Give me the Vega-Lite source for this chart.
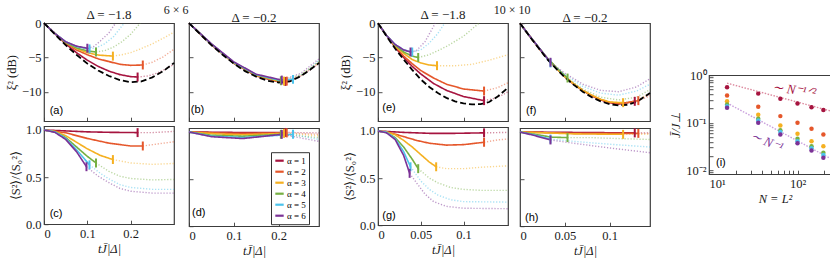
{
"$schema": "https://vega.github.io/schema/vega-lite/v6.json",
"padding": {"left": 4, "right": 2, "top": 3, "bottom": 2},
"datasets": {
"curves": [
{"p":"a","a":1,"s":"s","t":0,"y":0},{"p":"a","a":1,"s":"s","t":0.025,"y":-1.5},{"p":"a","a":1,"s":"s","t":0.05,"y":-3},{"p":"a","a":1,"s":"s","t":0.075,"y":-4.3},{"p":"a","a":1,"s":"s","t":0.1,"y":-5.4},{"p":"a","a":1,"s":"s","t":0.125,"y":-6.3},{"p":"a","a":1,"s":"s","t":0.15,"y":-7},{"p":"a","a":1,"s":"s","t":0.175,"y":-7.5},{"p":"a","a":1,"s":"s","t":0.2,"y":-7.8},{"p":"a","a":1,"s":"s","t":0.216,"y":-7.85},
{"p":"a","a":1,"s":"d","t":0.216,"y":-7.85},{"p":"a","a":1,"s":"d","t":0.24,"y":-7.7},{"p":"a","a":1,"s":"d","t":0.26,"y":-7.3},{"p":"a","a":1,"s":"d","t":0.28,"y":-6.7},{"p":"a","a":1,"s":"d","t":0.3,"y":-6},
{"p":"a","a":2,"s":"s","t":0,"y":0},{"p":"a","a":2,"s":"s","t":0.025,"y":-1.5},{"p":"a","a":2,"s":"s","t":0.05,"y":-2.9},{"p":"a","a":2,"s":"s","t":0.075,"y":-3.9},{"p":"a","a":2,"s":"s","t":0.1,"y":-4.6},{"p":"a","a":2,"s":"s","t":0.125,"y":-5.2},{"p":"a","a":2,"s":"s","t":0.15,"y":-5.6},{"p":"a","a":2,"s":"s","t":0.175,"y":-6},{"p":"a","a":2,"s":"s","t":0.2,"y":-6.15},{"p":"a","a":2,"s":"s","t":0.228,"y":-6.1},
{"p":"a","a":2,"s":"d","t":0.228,"y":-6.1},{"p":"a","a":2,"s":"d","t":0.25,"y":-5.7},{"p":"a","a":2,"s":"d","t":0.275,"y":-4.9},{"p":"a","a":2,"s":"d","t":0.3,"y":-3.8},
{"p":"a","a":3,"s":"s","t":0,"y":0},{"p":"a","a":3,"s":"s","t":0.025,"y":-1.5},{"p":"a","a":3,"s":"s","t":0.05,"y":-2.8},{"p":"a","a":3,"s":"s","t":0.075,"y":-3.7},{"p":"a","a":3,"s":"s","t":0.1,"y":-4.3},{"p":"a","a":3,"s":"s","t":0.125,"y":-4.65},{"p":"a","a":3,"s":"s","t":0.159,"y":-4.8},
{"p":"a","a":3,"s":"d","t":0.159,"y":-4.8},{"p":"a","a":3,"s":"d","t":0.18,"y":-4.6},{"p":"a","a":3,"s":"d","t":0.2,"y":-4.3},{"p":"a","a":3,"s":"d","t":0.225,"y":-3.7},{"p":"a","a":3,"s":"d","t":0.25,"y":-3},{"p":"a","a":3,"s":"d","t":0.275,"y":-2.2},{"p":"a","a":3,"s":"d","t":0.3,"y":-1.3},
{"p":"a","a":4,"s":"s","t":0,"y":0},{"p":"a","a":4,"s":"s","t":0.025,"y":-1.5},{"p":"a","a":4,"s":"s","t":0.05,"y":-2.8},{"p":"a","a":4,"s":"s","t":0.075,"y":-3.6},{"p":"a","a":4,"s":"s","t":0.1,"y":-4.05},{"p":"a","a":4,"s":"s","t":0.12,"y":-4.2},
{"p":"a","a":4,"s":"d","t":0.12,"y":-4.2},{"p":"a","a":4,"s":"d","t":0.14,"y":-4},{"p":"a","a":4,"s":"d","t":0.16,"y":-3.5},{"p":"a","a":4,"s":"d","t":0.18,"y":-2.7},{"p":"a","a":4,"s":"d","t":0.2,"y":-1.6},{"p":"a","a":4,"s":"d","t":0.222,"y":0},
{"p":"a","a":5,"s":"s","t":0,"y":0},{"p":"a","a":5,"s":"s","t":0.025,"y":-1.5},{"p":"a","a":5,"s":"s","t":0.05,"y":-2.7},{"p":"a","a":5,"s":"s","t":0.075,"y":-3.4},{"p":"a","a":5,"s":"s","t":0.105,"y":-3.75},
{"p":"a","a":5,"s":"d","t":0.105,"y":-3.75},{"p":"a","a":5,"s":"d","t":0.12,"y":-3.6},{"p":"a","a":5,"s":"d","t":0.14,"y":-3},{"p":"a","a":5,"s":"d","t":0.16,"y":-2},{"p":"a","a":5,"s":"d","t":0.185,"y":0},
{"p":"a","a":6,"s":"s","t":0,"y":0},{"p":"a","a":6,"s":"s","t":0.025,"y":-1.5},{"p":"a","a":6,"s":"s","t":0.05,"y":-2.7},{"p":"a","a":6,"s":"s","t":0.075,"y":-3.35},{"p":"a","a":6,"s":"s","t":0.1,"y":-3.65},
{"p":"a","a":6,"s":"d","t":0.1,"y":-3.65},{"p":"a","a":6,"s":"d","t":0.115,"y":-3.4},{"p":"a","a":6,"s":"d","t":0.13,"y":-2.6},{"p":"a","a":6,"s":"d","t":0.15,"y":-1.4},{"p":"a","a":6,"s":"d","t":0.165,"y":0},

{"p":"b","a":1,"s":"s","t":0,"y":0},{"p":"b","a":1,"s":"s","t":0.05,"y":-3.15},{"p":"b","a":1,"s":"s","t":0.1,"y":-5.85},{"p":"b","a":1,"s":"s","t":0.15,"y":-7.7},{"p":"b","a":1,"s":"s","t":0.2,"y":-8.55},{"p":"b","a":1,"s":"s","t":0.215,"y":-8.5},
{"p":"b","a":1,"s":"d","t":0.215,"y":-8.5},{"p":"b","a":1,"s":"d","t":0.25,"y":-7.7},{"p":"b","a":1,"s":"d","t":0.29,"y":-5.9},
{"p":"b","a":2,"s":"s","t":0,"y":0},{"p":"b","a":2,"s":"s","t":0.05,"y":-3.1},{"p":"b","a":2,"s":"s","t":0.1,"y":-5.8},{"p":"b","a":2,"s":"s","t":0.15,"y":-7.65},{"p":"b","a":2,"s":"s","t":0.2,"y":-8.5},{"p":"b","a":2,"s":"s","t":0.218,"y":-8.45},
{"p":"b","a":2,"s":"d","t":0.218,"y":-8.45},{"p":"b","a":2,"s":"d","t":0.25,"y":-7.65},{"p":"b","a":2,"s":"d","t":0.29,"y":-5.8},
{"p":"b","a":3,"s":"s","t":0,"y":0},{"p":"b","a":3,"s":"s","t":0.05,"y":-3.1},{"p":"b","a":3,"s":"s","t":0.1,"y":-5.8},{"p":"b","a":3,"s":"s","t":0.15,"y":-7.6},{"p":"b","a":3,"s":"s","t":0.2,"y":-8.45},{"p":"b","a":3,"s":"s","t":0.212,"y":-8.45},
{"p":"b","a":3,"s":"d","t":0.212,"y":-8.45},{"p":"b","a":3,"s":"d","t":0.25,"y":-7.6},{"p":"b","a":3,"s":"d","t":0.29,"y":-5.7},
{"p":"b","a":4,"s":"s","t":0,"y":0},{"p":"b","a":4,"s":"s","t":0.05,"y":-3.05},{"p":"b","a":4,"s":"s","t":0.1,"y":-5.75},{"p":"b","a":4,"s":"s","t":0.15,"y":-7.55},{"p":"b","a":4,"s":"s","t":0.205,"y":-8.4},
{"p":"b","a":4,"s":"d","t":0.205,"y":-8.4},{"p":"b","a":4,"s":"d","t":0.25,"y":-7.5},{"p":"b","a":4,"s":"d","t":0.29,"y":-5.55},
{"p":"b","a":5,"s":"s","t":0,"y":0},{"p":"b","a":5,"s":"s","t":0.05,"y":-3.05},{"p":"b","a":5,"s":"s","t":0.1,"y":-5.7},{"p":"b","a":5,"s":"s","t":0.15,"y":-7.5},{"p":"b","a":5,"s":"s","t":0.2,"y":-8.3},{"p":"b","a":5,"s":"s","t":0.232,"y":-8.2},
{"p":"b","a":5,"s":"d","t":0.232,"y":-8.2},{"p":"b","a":5,"s":"d","t":0.26,"y":-7.2},{"p":"b","a":5,"s":"d","t":0.29,"y":-5.4},
{"p":"b","a":6,"s":"s","t":0,"y":0},{"p":"b","a":6,"s":"s","t":0.05,"y":-3},{"p":"b","a":6,"s":"s","t":0.1,"y":-5.65},{"p":"b","a":6,"s":"s","t":0.15,"y":-7.45},{"p":"b","a":6,"s":"s","t":0.207,"y":-8.3},
{"p":"b","a":6,"s":"d","t":0.207,"y":-8.3},{"p":"b","a":6,"s":"d","t":0.25,"y":-7.3},{"p":"b","a":6,"s":"d","t":0.29,"y":-5.2},

{"p":"c","a":1,"s":"s","t":0,"y":1},{"p":"c","a":1,"s":"s","t":0.05,"y":0.99},{"p":"c","a":1,"s":"s","t":0.1,"y":0.98},{"p":"c","a":1,"s":"s","t":0.15,"y":0.975},{"p":"c","a":1,"s":"s","t":0.216,"y":0.972},
{"p":"c","a":1,"s":"d","t":0.216,"y":0.972},{"p":"c","a":1,"s":"d","t":0.25,"y":0.972},{"p":"c","a":1,"s":"d","t":0.3,"y":0.985},
{"p":"c","a":2,"s":"s","t":0,"y":1},{"p":"c","a":2,"s":"s","t":0.05,"y":0.97},{"p":"c","a":2,"s":"s","t":0.1,"y":0.91},{"p":"c","a":2,"s":"s","t":0.15,"y":0.86},{"p":"c","a":2,"s":"s","t":0.2,"y":0.83},{"p":"c","a":2,"s":"s","t":0.228,"y":0.83},
{"p":"c","a":2,"s":"d","t":0.228,"y":0.83},{"p":"c","a":2,"s":"d","t":0.26,"y":0.85},{"p":"c","a":2,"s":"d","t":0.3,"y":0.875},
{"p":"c","a":3,"s":"s","t":0,"y":1},{"p":"c","a":3,"s":"s","t":0.025,"y":0.985},{"p":"c","a":3,"s":"s","t":0.05,"y":0.94},{"p":"c","a":3,"s":"s","t":0.075,"y":0.87},{"p":"c","a":3,"s":"s","t":0.1,"y":0.8},{"p":"c","a":3,"s":"s","t":0.13,"y":0.73},{"p":"c","a":3,"s":"s","t":0.159,"y":0.686},
{"p":"c","a":3,"s":"d","t":0.159,"y":0.686},{"p":"c","a":3,"s":"d","t":0.2,"y":0.65},{"p":"c","a":3,"s":"d","t":0.25,"y":0.635},{"p":"c","a":3,"s":"d","t":0.3,"y":0.645},
{"p":"c","a":4,"s":"s","t":0,"y":1},{"p":"c","a":4,"s":"s","t":0.025,"y":0.98},{"p":"c","a":4,"s":"s","t":0.05,"y":0.92},{"p":"c","a":4,"s":"s","t":0.075,"y":0.82},{"p":"c","a":4,"s":"s","t":0.1,"y":0.72},{"p":"c","a":4,"s":"s","t":0.12,"y":0.65},
{"p":"c","a":4,"s":"d","t":0.12,"y":0.65},{"p":"c","a":4,"s":"d","t":0.15,"y":0.56},{"p":"c","a":4,"s":"d","t":0.175,"y":0.51},{"p":"c","a":4,"s":"d","t":0.2,"y":0.485},{"p":"c","a":4,"s":"d","t":0.25,"y":0.47},{"p":"c","a":4,"s":"d","t":0.3,"y":0.475},
{"p":"c","a":5,"s":"s","t":0,"y":1},{"p":"c","a":5,"s":"s","t":0.025,"y":0.98},{"p":"c","a":5,"s":"s","t":0.05,"y":0.91},{"p":"c","a":5,"s":"s","t":0.075,"y":0.79},{"p":"c","a":5,"s":"s","t":0.105,"y":0.63},
{"p":"c","a":5,"s":"d","t":0.105,"y":0.63},{"p":"c","a":5,"s":"d","t":0.13,"y":0.54},{"p":"c","a":5,"s":"d","t":0.15,"y":0.48},{"p":"c","a":5,"s":"d","t":0.175,"y":0.42},{"p":"c","a":5,"s":"d","t":0.2,"y":0.39},{"p":"c","a":5,"s":"d","t":0.25,"y":0.37},{"p":"c","a":5,"s":"d","t":0.3,"y":0.37},
{"p":"c","a":6,"s":"s","t":0,"y":1},{"p":"c","a":6,"s":"s","t":0.025,"y":0.975},{"p":"c","a":6,"s":"s","t":0.05,"y":0.9},{"p":"c","a":6,"s":"s","t":0.075,"y":0.77},{"p":"c","a":6,"s":"s","t":0.098,"y":0.61},
{"p":"c","a":6,"s":"d","t":0.098,"y":0.61},{"p":"c","a":6,"s":"d","t":0.125,"y":0.51},{"p":"c","a":6,"s":"d","t":0.15,"y":0.44},{"p":"c","a":6,"s":"d","t":0.175,"y":0.38},{"p":"c","a":6,"s":"d","t":0.2,"y":0.35},{"p":"c","a":6,"s":"d","t":0.25,"y":0.33},{"p":"c","a":6,"s":"d","t":0.3,"y":0.33},

{"p":"d","a":1,"s":"s","t":0,"y":1},{"p":"d","a":1,"s":"s","t":0.1,"y":0.995},{"p":"d","a":1,"s":"s","t":0.215,"y":0.995},
{"p":"d","a":1,"s":"d","t":0.215,"y":0.995},{"p":"d","a":1,"s":"d","t":0.29,"y":0.99},
{"p":"d","a":2,"s":"s","t":0,"y":1},{"p":"d","a":2,"s":"s","t":0.1,"y":0.985},{"p":"d","a":2,"s":"s","t":0.218,"y":0.99},
{"p":"d","a":2,"s":"d","t":0.218,"y":0.99},{"p":"d","a":2,"s":"d","t":0.29,"y":0.975},
{"p":"d","a":3,"s":"s","t":0,"y":1},{"p":"d","a":3,"s":"s","t":0.06,"y":0.98},{"p":"d","a":3,"s":"s","t":0.12,"y":0.97},{"p":"d","a":3,"s":"s","t":0.212,"y":0.985},
{"p":"d","a":3,"s":"d","t":0.212,"y":0.985},{"p":"d","a":3,"s":"d","t":0.29,"y":0.96},
{"p":"d","a":4,"s":"s","t":0,"y":1},{"p":"d","a":4,"s":"s","t":0.05,"y":0.965},{"p":"d","a":4,"s":"s","t":0.12,"y":0.955},{"p":"d","a":4,"s":"s","t":0.205,"y":0.975},
{"p":"d","a":4,"s":"d","t":0.205,"y":0.975},{"p":"d","a":4,"s":"d","t":0.29,"y":0.94},
{"p":"d","a":5,"s":"s","t":0,"y":1},{"p":"d","a":5,"s":"s","t":0.05,"y":0.955},{"p":"d","a":5,"s":"s","t":0.12,"y":0.94},{"p":"d","a":5,"s":"s","t":0.232,"y":0.975},
{"p":"d","a":5,"s":"d","t":0.232,"y":0.975},{"p":"d","a":5,"s":"d","t":0.29,"y":0.92},
{"p":"d","a":6,"s":"s","t":0,"y":1},{"p":"d","a":6,"s":"s","t":0.05,"y":0.95},{"p":"d","a":6,"s":"s","t":0.12,"y":0.93},{"p":"d","a":6,"s":"s","t":0.207,"y":0.975},
{"p":"d","a":6,"s":"d","t":0.207,"y":0.975},{"p":"d","a":6,"s":"d","t":0.29,"y":0.9},

{"p":"e","a":1,"s":"s","t":0,"y":0},{"p":"e","a":1,"s":"s","t":0.01,"y":-1.8},{"p":"e","a":1,"s":"s","t":0.02,"y":-3.5},{"p":"e","a":1,"s":"s","t":0.03,"y":-5},{"p":"e","a":1,"s":"s","t":0.04,"y":-6.3},{"p":"e","a":1,"s":"s","t":0.05,"y":-7.4},{"p":"e","a":1,"s":"s","t":0.065,"y":-8.8},{"p":"e","a":1,"s":"s","t":0.08,"y":-9.8},{"p":"e","a":1,"s":"s","t":0.1,"y":-10.7},{"p":"e","a":1,"s":"s","t":0.124,"y":-11.3},
{"p":"e","a":1,"s":"d","t":0.124,"y":-11.3},{"p":"e","a":1,"s":"d","t":0.135,"y":-11},{"p":"e","a":1,"s":"d","t":0.145,"y":-10.5},{"p":"e","a":1,"s":"d","t":0.152,"y":-10},
{"p":"e","a":2,"s":"s","t":0,"y":0},{"p":"e","a":2,"s":"s","t":0.01,"y":-1.8},{"p":"e","a":2,"s":"s","t":0.02,"y":-3.4},{"p":"e","a":2,"s":"s","t":0.03,"y":-4.8},{"p":"e","a":2,"s":"s","t":0.04,"y":-5.9},{"p":"e","a":2,"s":"s","t":0.05,"y":-6.9},{"p":"e","a":2,"s":"s","t":0.065,"y":-8},{"p":"e","a":2,"s":"s","t":0.08,"y":-8.9},{"p":"e","a":2,"s":"s","t":0.1,"y":-9.6},{"p":"e","a":2,"s":"s","t":0.124,"y":-9.9},
{"p":"e","a":2,"s":"d","t":0.124,"y":-9.9},{"p":"e","a":2,"s":"d","t":0.14,"y":-9.4},{"p":"e","a":2,"s":"d","t":0.152,"y":-8.7},
{"p":"e","a":3,"s":"s","t":0,"y":0},{"p":"e","a":3,"s":"s","t":0.01,"y":-1.8},{"p":"e","a":3,"s":"s","t":0.02,"y":-3.3},{"p":"e","a":3,"s":"s","t":0.03,"y":-4.4},{"p":"e","a":3,"s":"s","t":0.04,"y":-5.3},{"p":"e","a":3,"s":"s","t":0.05,"y":-5.8},{"p":"e","a":3,"s":"s","t":0.06,"y":-6.1},{"p":"e","a":3,"s":"s","t":0.069,"y":-6.2},
{"p":"e","a":3,"s":"d","t":0.069,"y":-6.2},{"p":"e","a":3,"s":"d","t":0.09,"y":-6.2},{"p":"e","a":3,"s":"d","t":0.11,"y":-6},{"p":"e","a":3,"s":"d","t":0.13,"y":-5.4},{"p":"e","a":3,"s":"d","t":0.152,"y":-4.6},
{"p":"e","a":4,"s":"s","t":0,"y":0},{"p":"e","a":4,"s":"s","t":0.01,"y":-1.8},{"p":"e","a":4,"s":"s","t":0.02,"y":-3.2},{"p":"e","a":4,"s":"s","t":0.03,"y":-4.2},{"p":"e","a":4,"s":"s","t":0.04,"y":-4.8},{"p":"e","a":4,"s":"s","t":0.047,"y":-5},
{"p":"e","a":4,"s":"d","t":0.047,"y":-5},{"p":"e","a":4,"s":"d","t":0.06,"y":-4.6},{"p":"e","a":4,"s":"d","t":0.08,"y":-3.4},{"p":"e","a":4,"s":"d","t":0.1,"y":-1.9},{"p":"e","a":4,"s":"d","t":0.118,"y":0},
{"p":"e","a":5,"s":"s","t":0,"y":0},{"p":"e","a":5,"s":"s","t":0.01,"y":-1.8},{"p":"e","a":5,"s":"s","t":0.02,"y":-3.1},{"p":"e","a":5,"s":"s","t":0.03,"y":-3.9},{"p":"e","a":5,"s":"s","t":0.04,"y":-4.2},
{"p":"e","a":5,"s":"d","t":0.04,"y":-4.2},{"p":"e","a":5,"s":"d","t":0.05,"y":-3.9},{"p":"e","a":5,"s":"d","t":0.06,"y":-2.9},{"p":"e","a":5,"s":"d","t":0.07,"y":-1.5},{"p":"e","a":5,"s":"d","t":0.078,"y":0},
{"p":"e","a":6,"s":"s","t":0,"y":0},{"p":"e","a":6,"s":"s","t":0.01,"y":-1.8},{"p":"e","a":6,"s":"s","t":0.02,"y":-3.1},{"p":"e","a":6,"s":"s","t":0.03,"y":-3.9},{"p":"e","a":6,"s":"s","t":0.038,"y":-4.2},
{"p":"e","a":6,"s":"d","t":0.038,"y":-4.2},{"p":"e","a":6,"s":"d","t":0.045,"y":-4},{"p":"e","a":6,"s":"d","t":0.055,"y":-2.7},{"p":"e","a":6,"s":"d","t":0.067,"y":0},

{"p":"f","a":1,"s":"s","t":0,"y":0},{"p":"f","a":1,"s":"s","t":0.01,"y":-1.75},{"p":"f","a":1,"s":"s","t":0.02,"y":-3.45},{"p":"f","a":1,"s":"s","t":0.03,"y":-5.1},{"p":"f","a":1,"s":"s","t":0.04,"y":-6.5},{"p":"f","a":1,"s":"s","t":0.05,"y":-7.8},{"p":"f","a":1,"s":"s","t":0.06,"y":-8.9},{"p":"f","a":1,"s":"s","t":0.07,"y":-9.85},{"p":"f","a":1,"s":"s","t":0.08,"y":-10.6},{"p":"f","a":1,"s":"s","t":0.09,"y":-11.2},{"p":"f","a":1,"s":"s","t":0.1,"y":-11.6},{"p":"f","a":1,"s":"s","t":0.11,"y":-11.8},{"p":"f","a":1,"s":"s","t":0.128,"y":-11.4},
{"p":"f","a":1,"s":"d","t":0.128,"y":-11.4},{"p":"f","a":1,"s":"d","t":0.145,"y":-10.4},
{"p":"f","a":2,"s":"s","t":0,"y":0},{"p":"f","a":2,"s":"s","t":0.01,"y":-1.75},{"p":"f","a":2,"s":"s","t":0.02,"y":-3.45},{"p":"f","a":2,"s":"s","t":0.03,"y":-5.1},{"p":"f","a":2,"s":"s","t":0.04,"y":-6.5},{"p":"f","a":2,"s":"s","t":0.05,"y":-7.8},{"p":"f","a":2,"s":"s","t":0.06,"y":-8.9},{"p":"f","a":2,"s":"s","t":0.07,"y":-9.8},{"p":"f","a":2,"s":"s","t":0.08,"y":-10.55},{"p":"f","a":2,"s":"s","t":0.09,"y":-11.15},{"p":"f","a":2,"s":"s","t":0.1,"y":-11.55},{"p":"f","a":2,"s":"s","t":0.11,"y":-11.75},{"p":"f","a":2,"s":"s","t":0.12,"y":-11.6},{"p":"f","a":2,"s":"s","t":0.132,"y":-11.3},
{"p":"f","a":2,"s":"d","t":0.132,"y":-11.3},{"p":"f","a":2,"s":"d","t":0.145,"y":-10.6},
{"p":"f","a":3,"s":"s","t":0,"y":0},{"p":"f","a":3,"s":"s","t":0.01,"y":-1.75},{"p":"f","a":3,"s":"s","t":0.02,"y":-3.45},{"p":"f","a":3,"s":"s","t":0.03,"y":-5.1},{"p":"f","a":3,"s":"s","t":0.04,"y":-6.5},{"p":"f","a":3,"s":"s","t":0.05,"y":-7.8},{"p":"f","a":3,"s":"s","t":0.06,"y":-8.85},{"p":"f","a":3,"s":"s","t":0.07,"y":-9.8},{"p":"f","a":3,"s":"s","t":0.08,"y":-10.5},{"p":"f","a":3,"s":"s","t":0.09,"y":-11.1},{"p":"f","a":3,"s":"s","t":0.1,"y":-11.5},{"p":"f","a":3,"s":"s","t":0.115,"y":-11.6},
{"p":"f","a":3,"s":"d","t":0.115,"y":-11.6},{"p":"f","a":3,"s":"d","t":0.13,"y":-11.3},{"p":"f","a":3,"s":"d","t":0.145,"y":-10.2},
{"p":"f","a":4,"s":"s","t":0,"y":0},{"p":"f","a":4,"s":"s","t":0.01,"y":-1.75},{"p":"f","a":4,"s":"s","t":0.02,"y":-3.4},{"p":"f","a":4,"s":"s","t":0.03,"y":-5},{"p":"f","a":4,"s":"s","t":0.04,"y":-6.4},{"p":"f","a":4,"s":"s","t":0.053,"y":-8},
{"p":"f","a":4,"s":"d","t":0.053,"y":-8},{"p":"f","a":4,"s":"d","t":0.07,"y":-9.6},{"p":"f","a":4,"s":"d","t":0.09,"y":-10.8},{"p":"f","a":4,"s":"d","t":0.11,"y":-11.2},{"p":"f","a":4,"s":"d","t":0.13,"y":-10.8},{"p":"f","a":4,"s":"d","t":0.145,"y":-9.7},
{"p":"f","a":5,"s":"s","t":0,"y":0},{"p":"f","a":5,"s":"s","t":0.01,"y":-1.75},{"p":"f","a":5,"s":"s","t":0.02,"y":-3.4},{"p":"f","a":5,"s":"s","t":0.034,"y":-5.8},
{"p":"f","a":5,"s":"d","t":0.034,"y":-5.8},{"p":"f","a":5,"s":"d","t":0.05,"y":-7.5},{"p":"f","a":5,"s":"d","t":0.07,"y":-9.2},{"p":"f","a":5,"s":"d","t":0.09,"y":-10.2},{"p":"f","a":5,"s":"d","t":0.11,"y":-10.5},{"p":"f","a":5,"s":"d","t":0.13,"y":-9.9},{"p":"f","a":5,"s":"d","t":0.145,"y":-8.9},
{"p":"f","a":6,"s":"s","t":0,"y":0},{"p":"f","a":6,"s":"s","t":0.01,"y":-1.75},{"p":"f","a":6,"s":"s","t":0.02,"y":-3.4},{"p":"f","a":6,"s":"s","t":0.034,"y":-5.7},
{"p":"f","a":6,"s":"d","t":0.034,"y":-5.7},{"p":"f","a":6,"s":"d","t":0.05,"y":-7.3},{"p":"f","a":6,"s":"d","t":0.07,"y":-8.9},{"p":"f","a":6,"s":"d","t":0.09,"y":-9.8},{"p":"f","a":6,"s":"d","t":0.11,"y":-10},{"p":"f","a":6,"s":"d","t":0.13,"y":-9.3},{"p":"f","a":6,"s":"d","t":0.145,"y":-8.1},

{"p":"g","a":1,"s":"s","t":0,"y":1},{"p":"g","a":1,"s":"s","t":0.03,"y":0.985},{"p":"g","a":1,"s":"s","t":0.06,"y":0.975},{"p":"g","a":1,"s":"s","t":0.09,"y":0.975},{"p":"g","a":1,"s":"s","t":0.124,"y":0.98},
{"p":"g","a":1,"s":"d","t":0.124,"y":0.98},{"p":"g","a":1,"s":"d","t":0.152,"y":0.985},
{"p":"g","a":2,"s":"s","t":0,"y":1},{"p":"g","a":2,"s":"s","t":0.015,"y":0.98},{"p":"g","a":2,"s":"s","t":0.03,"y":0.94},{"p":"g","a":2,"s":"s","t":0.045,"y":0.9},{"p":"g","a":2,"s":"s","t":0.06,"y":0.87},{"p":"g","a":2,"s":"s","t":0.08,"y":0.85},{"p":"g","a":2,"s":"s","t":0.1,"y":0.855},{"p":"g","a":2,"s":"s","t":0.124,"y":0.88},
{"p":"g","a":2,"s":"d","t":0.124,"y":0.88},{"p":"g","a":2,"s":"d","t":0.14,"y":0.905},{"p":"g","a":2,"s":"d","t":0.152,"y":0.915},
{"p":"g","a":3,"s":"s","t":0,"y":1},{"p":"g","a":3,"s":"s","t":0.01,"y":0.99},{"p":"g","a":3,"s":"s","t":0.02,"y":0.96},{"p":"g","a":3,"s":"s","t":0.03,"y":0.9},{"p":"g","a":3,"s":"s","t":0.04,"y":0.83},{"p":"g","a":3,"s":"s","t":0.05,"y":0.75},{"p":"g","a":3,"s":"s","t":0.06,"y":0.67},{"p":"g","a":3,"s":"s","t":0.068,"y":0.62},
{"p":"g","a":3,"s":"d","t":0.068,"y":0.62},{"p":"g","a":3,"s":"d","t":0.08,"y":0.6},{"p":"g","a":3,"s":"d","t":0.1,"y":0.6},{"p":"g","a":3,"s":"d","t":0.12,"y":0.615},{"p":"g","a":3,"s":"d","t":0.152,"y":0.63},
{"p":"g","a":4,"s":"s","t":0,"y":1},{"p":"g","a":4,"s":"s","t":0.01,"y":0.985},{"p":"g","a":4,"s":"s","t":0.02,"y":0.93},{"p":"g","a":4,"s":"s","t":0.03,"y":0.83},{"p":"g","a":4,"s":"s","t":0.04,"y":0.7},{"p":"g","a":4,"s":"s","t":0.047,"y":0.6},
{"p":"g","a":4,"s":"d","t":0.047,"y":0.6},{"p":"g","a":4,"s":"d","t":0.06,"y":0.5},{"p":"g","a":4,"s":"d","t":0.07,"y":0.45},{"p":"g","a":4,"s":"d","t":0.085,"y":0.4},{"p":"g","a":4,"s":"d","t":0.1,"y":0.38},{"p":"g","a":4,"s":"d","t":0.12,"y":0.37},{"p":"g","a":4,"s":"d","t":0.152,"y":0.37},
{"p":"g","a":5,"s":"s","t":0,"y":1},{"p":"g","a":5,"s":"s","t":0.01,"y":0.985},{"p":"g","a":5,"s":"s","t":0.02,"y":0.92},{"p":"g","a":5,"s":"s","t":0.03,"y":0.78},{"p":"g","a":5,"s":"s","t":0.038,"y":0.62},
{"p":"g","a":5,"s":"d","t":0.038,"y":0.62},{"p":"g","a":5,"s":"d","t":0.05,"y":0.47},{"p":"g","a":5,"s":"d","t":0.06,"y":0.38},{"p":"g","a":5,"s":"d","t":0.07,"y":0.32},{"p":"g","a":5,"s":"d","t":0.085,"y":0.27},{"p":"g","a":5,"s":"d","t":0.1,"y":0.25},{"p":"g","a":5,"s":"d","t":0.152,"y":0.245},
{"p":"g","a":6,"s":"s","t":0,"y":1},{"p":"g","a":6,"s":"s","t":0.01,"y":0.98},{"p":"g","a":6,"s":"s","t":0.02,"y":0.91},{"p":"g","a":6,"s":"s","t":0.03,"y":0.74},{"p":"g","a":6,"s":"s","t":0.037,"y":0.55},
{"p":"g","a":6,"s":"d","t":0.037,"y":0.55},{"p":"g","a":6,"s":"d","t":0.045,"y":0.45},{"p":"g","a":6,"s":"d","t":0.055,"y":0.33},{"p":"g","a":6,"s":"d","t":0.065,"y":0.25},{"p":"g","a":6,"s":"d","t":0.08,"y":0.2},{"p":"g","a":6,"s":"d","t":0.1,"y":0.18},{"p":"g","a":6,"s":"d","t":0.152,"y":0.175},

{"p":"h","a":1,"s":"s","t":0,"y":1},{"p":"h","a":1,"s":"s","t":0.06,"y":0.995},{"p":"h","a":1,"s":"s","t":0.128,"y":0.99},
{"p":"h","a":1,"s":"d","t":0.128,"y":0.99},{"p":"h","a":1,"s":"d","t":0.145,"y":0.99},
{"p":"h","a":2,"s":"s","t":0,"y":1},{"p":"h","a":2,"s":"s","t":0.06,"y":0.985},{"p":"h","a":2,"s":"s","t":0.132,"y":0.985},
{"p":"h","a":2,"s":"d","t":0.132,"y":0.985},{"p":"h","a":2,"s":"d","t":0.145,"y":0.985},
{"p":"h","a":3,"s":"s","t":0,"y":1},{"p":"h","a":3,"s":"s","t":0.06,"y":0.98},{"p":"h","a":3,"s":"s","t":0.115,"y":0.975},
{"p":"h","a":3,"s":"d","t":0.115,"y":0.975},{"p":"h","a":3,"s":"d","t":0.145,"y":0.975},
{"p":"h","a":4,"s":"s","t":0,"y":1},{"p":"h","a":4,"s":"s","t":0.02,"y":0.97},{"p":"h","a":4,"s":"s","t":0.035,"y":0.945},{"p":"h","a":4,"s":"s","t":0.053,"y":0.94},
{"p":"h","a":4,"s":"d","t":0.053,"y":0.94},{"p":"h","a":4,"s":"d","t":0.08,"y":0.94},{"p":"h","a":4,"s":"d","t":0.11,"y":0.93},{"p":"h","a":4,"s":"d","t":0.145,"y":0.92},
{"p":"h","a":5,"s":"s","t":0,"y":1},{"p":"h","a":5,"s":"s","t":0.015,"y":0.97},{"p":"h","a":5,"s":"s","t":0.034,"y":0.925},
{"p":"h","a":5,"s":"d","t":0.034,"y":0.925},{"p":"h","a":5,"s":"d","t":0.06,"y":0.9},{"p":"h","a":5,"s":"d","t":0.1,"y":0.87},{"p":"h","a":5,"s":"d","t":0.145,"y":0.84},
{"p":"h","a":6,"s":"s","t":0,"y":1},{"p":"h","a":6,"s":"s","t":0.015,"y":0.965},{"p":"h","a":6,"s":"s","t":0.034,"y":0.915},
{"p":"h","a":6,"s":"d","t":0.034,"y":0.915},{"p":"h","a":6,"s":"d","t":0.06,"y":0.88},{"p":"h","a":6,"s":"d","t":0.1,"y":0.83},{"p":"h","a":6,"s":"d","t":0.145,"y":0.78}
],
"env": [
{"p":"a","t":0,"y":0},{"p":"a","t":0.025,"y":-1.6},{"p":"a","t":0.05,"y":-3.2},{"p":"a","t":0.075,"y":-4.6},{"p":"a","t":0.1,"y":-5.9},{"p":"a","t":0.125,"y":-6.9},{"p":"a","t":0.15,"y":-7.7},{"p":"a","t":0.175,"y":-8.3},{"p":"a","t":0.2,"y":-8.6},{"p":"a","t":0.225,"y":-8.5},{"p":"a","t":0.25,"y":-7.9},{"p":"a","t":0.275,"y":-7},{"p":"a","t":0.3,"y":-5.8},
{"p":"b","t":0,"y":0},{"p":"b","t":0.025,"y":-1.6},{"p":"b","t":0.05,"y":-3.2},{"p":"b","t":0.075,"y":-4.6},{"p":"b","t":0.1,"y":-5.9},{"p":"b","t":0.125,"y":-7},{"p":"b","t":0.15,"y":-7.8},{"p":"b","t":0.175,"y":-8.4},{"p":"b","t":0.2,"y":-8.65},{"p":"b","t":0.225,"y":-8.5},{"p":"b","t":0.25,"y":-7.7},{"p":"b","t":0.27,"y":-6.8},{"p":"b","t":0.29,"y":-5.8},
{"p":"e","t":0,"y":0},{"p":"e","t":0.01,"y":-1.9},{"p":"e","t":0.02,"y":-3.7},{"p":"e","t":0.03,"y":-5.3},{"p":"e","t":0.04,"y":-6.8},{"p":"e","t":0.05,"y":-8.2},{"p":"e","t":0.06,"y":-9.3},{"p":"e","t":0.07,"y":-10.2},{"p":"e","t":0.08,"y":-10.9},{"p":"e","t":0.09,"y":-11.4},{"p":"e","t":0.1,"y":-11.7},{"p":"e","t":0.11,"y":-11.85},{"p":"e","t":0.12,"y":-11.8},{"p":"e","t":0.13,"y":-11.5},{"p":"e","t":0.14,"y":-10.7},{"p":"e","t":0.152,"y":-9.4},
{"p":"f","t":0,"y":0},{"p":"f","t":0.01,"y":-1.8},{"p":"f","t":0.02,"y":-3.5},{"p":"f","t":0.03,"y":-5.2},{"p":"f","t":0.04,"y":-6.6},{"p":"f","t":0.05,"y":-7.9},{"p":"f","t":0.06,"y":-9},{"p":"f","t":0.07,"y":-10},{"p":"f","t":0.08,"y":-10.8},{"p":"f","t":0.09,"y":-11.4},{"p":"f","t":0.1,"y":-11.8},{"p":"f","t":0.11,"y":-12},{"p":"f","t":0.12,"y":-11.9},{"p":"f","t":0.13,"y":-11.5},{"p":"f","t":0.145,"y":-10.2}
],
"ends": [
{"p":"a","a":1,"t":0.216,"y":-7.85},{"p":"a","a":2,"t":0.228,"y":-6.1},{"p":"a","a":3,"t":0.159,"y":-4.8},{"p":"a","a":4,"t":0.12,"y":-4.2},{"p":"a","a":5,"t":0.105,"y":-3.75},{"p":"a","a":6,"t":0.1,"y":-3.65},
{"p":"b","a":1,"t":0.215,"y":-8.5},{"p":"b","a":2,"t":0.218,"y":-8.45},{"p":"b","a":3,"t":0.212,"y":-8.45},{"p":"b","a":4,"t":0.205,"y":-8.4},{"p":"b","a":5,"t":0.232,"y":-8.2},{"p":"b","a":6,"t":0.207,"y":-8.3},
{"p":"c","a":1,"t":0.216,"y":0.972},{"p":"c","a":2,"t":0.228,"y":0.83},{"p":"c","a":3,"t":0.159,"y":0.686},{"p":"c","a":4,"t":0.12,"y":0.65},{"p":"c","a":5,"t":0.105,"y":0.63},{"p":"c","a":6,"t":0.098,"y":0.61},
{"p":"d","a":1,"t":0.215,"y":0.995},{"p":"d","a":2,"t":0.218,"y":0.99},{"p":"d","a":3,"t":0.212,"y":0.985},{"p":"d","a":4,"t":0.205,"y":0.975},{"p":"d","a":5,"t":0.232,"y":0.975},{"p":"d","a":6,"t":0.207,"y":0.975},
{"p":"e","a":1,"t":0.124,"y":-11.3},{"p":"e","a":2,"t":0.124,"y":-9.9},{"p":"e","a":3,"t":0.069,"y":-6.2},{"p":"e","a":4,"t":0.047,"y":-5},{"p":"e","a":5,"t":0.04,"y":-4.2},{"p":"e","a":6,"t":0.038,"y":-4.2},
{"p":"f","a":1,"t":0.128,"y":-11.4},{"p":"f","a":2,"t":0.132,"y":-11.3},{"p":"f","a":3,"t":0.115,"y":-11.6},{"p":"f","a":4,"t":0.053,"y":-8},{"p":"f","a":5,"t":0.034,"y":-5.8},{"p":"f","a":6,"t":0.034,"y":-5.7},
{"p":"g","a":1,"t":0.124,"y":0.98},{"p":"g","a":2,"t":0.124,"y":0.88},{"p":"g","a":3,"t":0.068,"y":0.62},{"p":"g","a":4,"t":0.047,"y":0.6},{"p":"g","a":5,"t":0.038,"y":0.62},{"p":"g","a":6,"t":0.037,"y":0.55},
{"p":"h","a":1,"t":0.128,"y":0.99},{"p":"h","a":2,"t":0.132,"y":0.985},{"p":"h","a":3,"t":0.115,"y":0.975},{"p":"h","a":4,"t":0.053,"y":0.94},{"p":"h","a":5,"t":0.034,"y":0.925},{"p":"h","a":6,"t":0.034,"y":0.915}
],
"scal": [
{"a":1,"N":16,"v":0.56},{"a":2,"N":16,"v":0.374},{"a":3,"N":16,"v":0.285},{"a":4,"N":16,"v":0.243},{"a":5,"N":16,"v":0.224},{"a":6,"N":16,"v":0.206},
{"a":1,"N":36,"v":0.41},{"a":2,"N":36,"v":0.217},{"a":3,"N":36,"v":0.147},{"a":4,"N":36,"v":0.121},{"a":5,"N":36,"v":0.112},{"a":6,"N":36,"v":0.1},
{"a":1,"N":64,"v":0.319},{"a":2,"N":64,"v":0.138},{"a":3,"N":64,"v":0.088},{"a":4,"N":64,"v":0.07},{"a":5,"N":64,"v":0.064},{"a":6,"N":64,"v":0.057},
{"a":1,"N":100,"v":0.255},{"a":2,"N":100,"v":0.1},{"a":3,"N":100,"v":0.059},{"a":4,"N":100,"v":0.046},{"a":5,"N":100,"v":0.041},{"a":6,"N":100,"v":0.037},
{"a":1,"N":144,"v":0.213},{"a":2,"N":144,"v":0.075},{"a":3,"N":144,"v":0.041},{"a":4,"N":144,"v":0.032},{"a":5,"N":144,"v":0.029},{"a":6,"N":144,"v":0.026},
{"a":1,"N":196,"v":0.185},{"a":2,"N":196,"v":0.057},{"a":3,"N":196,"v":0.032},{"a":4,"N":196,"v":0.0234},{"a":5,"N":196,"v":0.021},{"a":6,"N":196,"v":0.0185},
{"a":1,"N":256,"v":0.162},{"a":2,"N":256,"v":0.047},{"a":3,"N":256,"v":0.0247},{"a":4,"N":256,"v":0.0185},{"a":5,"N":256,"v":0.0165},{"a":6,"N":256,"v":0.015}
],
"fits": [
{"k":"h","N":16,"v":0.68},{"k":"h","N":256,"v":0.17},{"k":"o","N":16,"v":0.26},{"k":"o","N":256,"v":0.0163}
]
},
"spacing": 14,
"align": "each",
"center": true,
"resolve": {"scale": {"color": "independent"}, "legend": {"color": "independent"}},
"hconcat": [
{
"title": {"text": "6 × 6", "offset": -8, "fontSize": 12, "anchor": "start", "dx": 159},
"spacing": 5,
"align": "each",
"resolve": {"scale": {"color": "independent"}, "legend": {"color": "independent"}},
"hconcat": [
{"spacing": 0, "resolve": {"scale": {"color": "independent"}, "legend": {"color": "independent"}},
"vconcat": [
{"width": 130, "height": 98, "title": {"text": "Δ = −1.8", "offset": -5, "frame": "group"},
"layer": [
{"data": {"name": "curves"}, "transform": [{"filter": "datum.p=='a'"}], "mark": {"type": "line"},
"encoding": {
"x": {"field": "t", "type": "quantitative", "scale": {"domain": [0, 0.3], "nice": false}, "axis": {"values": [0, 0.1, 0.2], "labels": false, "title": null}},
"y": {"field": "y", "type": "quantitative", "scale": {"domain": [-14.3, 0], "nice": false}, "axis": {"values": [-10, -5, 0], "format": "d", "title": "ξ² (dB)"}},
"color": {"field": "a", "type": "nominal", "scale": {"domain": [1,2,3,4,5,6], "range": ["#a6143f","#e5572b","#f5b021","#76b043","#4cc3ec","#7b3296"]}, "legend": null},
"detail": {"field": "s"},
"strokeDash": {"field": "s", "type": "nominal", "scale": {"domain": ["s","d"], "range": [[1,0],[1.2,1.8]]}, "legend": null},
"opacity": {"field": "s", "type": "nominal", "scale": {"domain": ["s","d"], "range": [1, 0.5]}, "legend": null},
"strokeWidth": {"field": "s", "type": "nominal", "scale": {"domain": ["s","d"], "range": [1.6, 1.4]}, "legend": null}
}},
{"data": {"name": "env"}, "transform": [{"filter": "datum.p=='a'"}], "mark": {"type": "line", "color": "#000", "strokeDash": [6,3], "strokeWidth": 1.8}, "encoding": {"x": {"field": "t", "type": "quantitative"}, "y": {"field": "y", "type": "quantitative"}}},
{"data": {"name": "ends"}, "transform": [{"filter": "datum.p=='a'"}], "mark": {"type": "point", "shape": "M0,-1L0,1", "filled": false, "strokeWidth": 2, "size": 80, "opacity": 1}, "encoding": {"x": {"field": "t", "type": "quantitative"}, "y": {"field": "y", "type": "quantitative"}, "color": {"field": "a", "type": "nominal", "scale": {"domain": [1,2,3,4,5,6], "range": ["#a6143f","#e5572b","#f5b021","#76b043","#4cc3ec","#7b3296"]}, "legend": null}}},
{"data": {"values": [{}]}, "mark": {"type": "text", "text": "(a)", "font": "Liberation Sans", "fontSize": 11, "align": "left", "baseline": "middle"}, "encoding": {"x": {"datum": 0.013}, "y": {"datum": -12.75}}}
]},
{"width": 130, "height": 98,
"layer": [
{"data": {"name": "curves"}, "transform": [{"filter": "datum.p=='c'"}], "mark": {"type": "line"},
"encoding": {
"x": {"field": "t", "type": "quantitative", "scale": {"domain": [0, 0.3], "nice": false}, "axis": {"values": [0, 0.1, 0.2], "format": "~g", "title": "tJ̄|Δ|", "titleFontStyle": "italic"}},
"y": {"field": "y", "type": "quantitative", "scale": {"domain": [0, 1.04], "nice": false}, "axis": {"values": [0, 0.5, 1], "format": ".1f", "title": "⟨S²⟩/⟨S₀²⟩"}},
"color": {"field": "a", "type": "nominal", "scale": {"domain": [1,2,3,4,5,6], "range": ["#a6143f","#e5572b","#f5b021","#76b043","#4cc3ec","#7b3296"]}, "legend": null},
"detail": {"field": "s"},
"strokeDash": {"field": "s", "type": "nominal", "scale": {"domain": ["s","d"], "range": [[1,0],[1.2,1.8]]}, "legend": null},
"opacity": {"field": "s", "type": "nominal", "scale": {"domain": ["s","d"], "range": [1, 0.5]}, "legend": null},
"strokeWidth": {"field": "s", "type": "nominal", "scale": {"domain": ["s","d"], "range": [1.6, 1.4]}, "legend": null}
}},
{"data": {"name": "ends"}, "transform": [{"filter": "datum.p=='c'"}], "mark": {"type": "point", "shape": "M0,-1L0,1", "filled": false, "strokeWidth": 2, "size": 80, "opacity": 1}, "encoding": {"x": {"field": "t", "type": "quantitative"}, "y": {"field": "y", "type": "quantitative"}, "color": {"field": "a", "type": "nominal", "scale": {"domain": [1,2,3,4,5,6], "range": ["#a6143f","#e5572b","#f5b021","#76b043","#4cc3ec","#7b3296"]}, "legend": null}}},
{"data": {"values": [{}]}, "mark": {"type": "text", "text": "(c)", "font": "Liberation Sans", "fontSize": 11, "align": "left", "baseline": "middle"}, "encoding": {"x": {"datum": 0.013}, "y": {"datum": 0.11}}}
]}
]},
{"spacing": 0, "resolve": {"scale": {"color": "independent"}, "legend": {"color": "independent"}},
"vconcat": [
{"width": 130, "height": 98, "title": {"text": "Δ = −0.2", "offset": -5, "frame": "group"},
"layer": [
{"data": {"name": "curves"}, "transform": [{"filter": "datum.p=='b'"}], "mark": {"type": "line"},
"encoding": {
"x": {"field": "t", "type": "quantitative", "scale": {"domain": [0, 0.29], "nice": false}, "axis": {"values": [0, 0.1, 0.2], "labels": false, "title": null}},
"y": {"field": "y", "type": "quantitative", "scale": {"domain": [-14.3, 0], "nice": false}, "axis": {"values": [-10, -5, 0], "labels": false, "title": null}},
"color": {"field": "a", "type": "nominal", "scale": {"domain": [1,2,3,4,5,6], "range": ["#a6143f","#e5572b","#f5b021","#76b043","#4cc3ec","#7b3296"]}, "legend": null},
"detail": {"field": "s"},
"strokeDash": {"field": "s", "type": "nominal", "scale": {"domain": ["s","d"], "range": [[1,0],[1.2,1.8]]}, "legend": null},
"opacity": {"field": "s", "type": "nominal", "scale": {"domain": ["s","d"], "range": [1, 0.5]}, "legend": null},
"strokeWidth": {"field": "s", "type": "nominal", "scale": {"domain": ["s","d"], "range": [1.6, 1.4]}, "legend": null}
}},
{"data": {"name": "env"}, "transform": [{"filter": "datum.p=='b'"}], "mark": {"type": "line", "color": "#000", "strokeDash": [6,3], "strokeWidth": 1.8}, "encoding": {"x": {"field": "t", "type": "quantitative"}, "y": {"field": "y", "type": "quantitative"}}},
{"data": {"name": "ends"}, "transform": [{"filter": "datum.p=='b'"}], "mark": {"type": "point", "shape": "M0,-1L0,1", "filled": false, "strokeWidth": 2, "size": 80, "opacity": 1}, "encoding": {"x": {"field": "t", "type": "quantitative"}, "y": {"field": "y", "type": "quantitative"}, "color": {"field": "a", "type": "nominal", "scale": {"domain": [1,2,3,4,5,6], "range": ["#a6143f","#e5572b","#f5b021","#76b043","#4cc3ec","#7b3296"]}, "legend": null}}},
{"data": {"values": [{}]}, "mark": {"type": "text", "text": "(b)", "font": "Liberation Sans", "fontSize": 11, "align": "left", "baseline": "middle"}, "encoding": {"x": {"datum": 0.004}, "y": {"datum": -12.6}}}
]},
{"width": 130, "height": 98,
"layer": [
{"data": {"name": "curves"}, "transform": [{"filter": "datum.p=='d'"}], "mark": {"type": "line"},
"encoding": {
"x": {"field": "t", "type": "quantitative", "scale": {"domain": [0, 0.29], "nice": false}, "axis": {"values": [0, 0.1, 0.2], "format": "~g", "title": "tJ̄|Δ|", "titleFontStyle": "italic"}},
"y": {"field": "y", "type": "quantitative", "scale": {"domain": [0, 1.04], "nice": false}, "axis": {"values": [0, 0.5, 1], "labels": false, "title": null}},
"color": {"field": "a", "type": "nominal", "scale": {"domain": [1,2,3,4,5,6], "range": ["#a6143f","#e5572b","#f5b021","#76b043","#4cc3ec","#7b3296"]},
 "legend": {"title": null, "orient": "none", "legendX": 82, "legendY": 24, "labelExpr": "'α = ' + datum.label", "symbolType": "stroke", "symbolStrokeWidth": 2.2, "symbolSize": 70, "symbolOpacity": 1, "labelFont": "Liberation Serif", "labelFontSize": 9, "rowPadding": 0, "padding": 3, "strokeColor": "#333", "fillColor": "white", "labelOffset": 2}},
"detail": {"field": "s"},
"strokeDash": {"field": "s", "type": "nominal", "scale": {"domain": ["s","d"], "range": [[1,0],[1.2,1.8]]}, "legend": null},
"opacity": {"field": "s", "type": "nominal", "scale": {"domain": ["s","d"], "range": [1, 0.5]}, "legend": null},
"strokeWidth": {"field": "s", "type": "nominal", "scale": {"domain": ["s","d"], "range": [1.6, 1.4]}, "legend": null}
}},
{"data": {"name": "ends"}, "transform": [{"filter": "datum.p=='d'"}], "mark": {"type": "point", "shape": "M0,-1L0,1", "filled": false, "strokeWidth": 2, "size": 80, "opacity": 1}, "encoding": {"x": {"field": "t", "type": "quantitative"}, "y": {"field": "y", "type": "quantitative"}, "color": {"field": "a", "type": "nominal", "scale": {"domain": [1,2,3,4,5,6], "range": ["#a6143f","#e5572b","#f5b021","#76b043","#4cc3ec","#7b3296"]}, "legend": null}}},
{"data": {"values": [{}]}, "mark": {"type": "text", "text": "(d)", "font": "Liberation Sans", "fontSize": 11, "align": "left", "baseline": "middle"}, "encoding": {"x": {"datum": 0.0067}, "y": {"datum": 0.136}}}
]}
]}
]
},
{
"title": {"text": "10 × 10", "offset": -8, "fontSize": 12, "anchor": "start", "dx": 155},
"spacing": 2,
"align": "each",
"resolve": {"scale": {"color": "independent"}, "legend": {"color": "independent"}},
"hconcat": [
{"spacing": 0, "resolve": {"scale": {"color": "independent"}, "legend": {"color": "independent"}},
"vconcat": [
{"width": 130, "height": 98, "title": {"text": "Δ = −1.8", "offset": -5, "frame": "group"},
"layer": [
{"data": {"name": "curves"}, "transform": [{"filter": "datum.p=='e'"}], "mark": {"type": "line"},
"encoding": {
"x": {"field": "t", "type": "quantitative", "scale": {"domain": [0, 0.152], "nice": false}, "axis": {"values": [0, 0.05, 0.1], "labels": false, "title": null}},
"y": {"field": "y", "type": "quantitative", "scale": {"domain": [-14.3, 0], "nice": false}, "axis": {"values": [-10, -5, 0], "format": "d", "title": "ξ² (dB)"}},
"color": {"field": "a", "type": "nominal", "scale": {"domain": [1,2,3,4,5,6], "range": ["#a6143f","#e5572b","#f5b021","#76b043","#4cc3ec","#7b3296"]}, "legend": null},
"detail": {"field": "s"},
"strokeDash": {"field": "s", "type": "nominal", "scale": {"domain": ["s","d"], "range": [[1,0],[1.2,1.8]]}, "legend": null},
"opacity": {"field": "s", "type": "nominal", "scale": {"domain": ["s","d"], "range": [1, 0.5]}, "legend": null},
"strokeWidth": {"field": "s", "type": "nominal", "scale": {"domain": ["s","d"], "range": [1.6, 1.4]}, "legend": null}
}},
{"data": {"name": "env"}, "transform": [{"filter": "datum.p=='e'"}], "mark": {"type": "line", "color": "#000", "strokeDash": [6,3], "strokeWidth": 1.8}, "encoding": {"x": {"field": "t", "type": "quantitative"}, "y": {"field": "y", "type": "quantitative"}}},
{"data": {"name": "ends"}, "transform": [{"filter": "datum.p=='e'"}], "mark": {"type": "point", "shape": "M0,-1L0,1", "filled": false, "strokeWidth": 2, "size": 80, "opacity": 1}, "encoding": {"x": {"field": "t", "type": "quantitative"}, "y": {"field": "y", "type": "quantitative"}, "color": {"field": "a", "type": "nominal", "scale": {"domain": [1,2,3,4,5,6], "range": ["#a6143f","#e5572b","#f5b021","#76b043","#4cc3ec","#7b3296"]}, "legend": null}}},
{"data": {"values": [{}]}, "mark": {"type": "text", "text": "(e)", "font": "Liberation Sans", "fontSize": 11, "align": "left", "baseline": "middle"}, "encoding": {"x": {"datum": 0.005}, "y": {"datum": -12.4}}}
]},
{"width": 130, "height": 98,
"layer": [
{"data": {"name": "curves"}, "transform": [{"filter": "datum.p=='g'"}], "mark": {"type": "line"},
"encoding": {
"x": {"field": "t", "type": "quantitative", "scale": {"domain": [0, 0.152], "nice": false}, "axis": {"values": [0, 0.05, 0.1], "format": "~g", "title": "tJ̄|Δ|", "titleFontStyle": "italic"}},
"y": {"field": "y", "type": "quantitative", "scale": {"domain": [0, 1.04], "nice": false}, "axis": {"values": [0, 0.5, 1], "format": ".1f", "title": "⟨S²⟩/⟨S₀²⟩"}},
"color": {"field": "a", "type": "nominal", "scale": {"domain": [1,2,3,4,5,6], "range": ["#a6143f","#e5572b","#f5b021","#76b043","#4cc3ec","#7b3296"]}, "legend": null},
"detail": {"field": "s"},
"strokeDash": {"field": "s", "type": "nominal", "scale": {"domain": ["s","d"], "range": [[1,0],[1.2,1.8]]}, "legend": null},
"opacity": {"field": "s", "type": "nominal", "scale": {"domain": ["s","d"], "range": [1, 0.5]}, "legend": null},
"strokeWidth": {"field": "s", "type": "nominal", "scale": {"domain": ["s","d"], "range": [1.6, 1.4]}, "legend": null}
}},
{"data": {"name": "ends"}, "transform": [{"filter": "datum.p=='g'"}], "mark": {"type": "point", "shape": "M0,-1L0,1", "filled": false, "strokeWidth": 2, "size": 80, "opacity": 1}, "encoding": {"x": {"field": "t", "type": "quantitative"}, "y": {"field": "y", "type": "quantitative"}, "color": {"field": "a", "type": "nominal", "scale": {"domain": [1,2,3,4,5,6], "range": ["#a6143f","#e5572b","#f5b021","#76b043","#4cc3ec","#7b3296"]}, "legend": null}}},
{"data": {"values": [{}]}, "mark": {"type": "text", "text": "(g)", "font": "Liberation Sans", "fontSize": 11, "align": "left", "baseline": "middle"}, "encoding": {"x": {"datum": 0.005}, "y": {"datum": 0.1}}}
]}
]},
{"spacing": 0, "resolve": {"scale": {"color": "independent"}, "legend": {"color": "independent"}},
"vconcat": [
{"width": 130, "height": 98, "title": {"text": "Δ = −0.2", "offset": -5, "frame": "group"},
"layer": [
{"data": {"name": "curves"}, "transform": [{"filter": "datum.p=='f'"}], "mark": {"type": "line"},
"encoding": {
"x": {"field": "t", "type": "quantitative", "scale": {"domain": [0, 0.145], "nice": false}, "axis": {"values": [0, 0.05, 0.1], "labels": false, "title": null}},
"y": {"field": "y", "type": "quantitative", "scale": {"domain": [-14.3, 0], "nice": false}, "axis": {"values": [-10, -5, 0], "labels": false, "title": null}},
"color": {"field": "a", "type": "nominal", "scale": {"domain": [1,2,3,4,5,6], "range": ["#a6143f","#e5572b","#f5b021","#76b043","#4cc3ec","#7b3296"]}, "legend": null},
"detail": {"field": "s"},
"strokeDash": {"field": "s", "type": "nominal", "scale": {"domain": ["s","d"], "range": [[1,0],[1.2,1.8]]}, "legend": null},
"opacity": {"field": "s", "type": "nominal", "scale": {"domain": ["s","d"], "range": [1, 0.5]}, "legend": null},
"strokeWidth": {"field": "s", "type": "nominal", "scale": {"domain": ["s","d"], "range": [1.6, 1.4]}, "legend": null}
}},
{"data": {"name": "env"}, "transform": [{"filter": "datum.p=='f'"}], "mark": {"type": "line", "color": "#000", "strokeDash": [6,3], "strokeWidth": 1.8}, "encoding": {"x": {"field": "t", "type": "quantitative"}, "y": {"field": "y", "type": "quantitative"}}},
{"data": {"name": "ends"}, "transform": [{"filter": "datum.p=='f'"}], "mark": {"type": "point", "shape": "M0,-1L0,1", "filled": false, "strokeWidth": 2, "size": 80, "opacity": 1}, "encoding": {"x": {"field": "t", "type": "quantitative"}, "y": {"field": "y", "type": "quantitative"}, "color": {"field": "a", "type": "nominal", "scale": {"domain": [1,2,3,4,5,6], "range": ["#a6143f","#e5572b","#f5b021","#76b043","#4cc3ec","#7b3296"]}, "legend": null}}},
{"data": {"values": [{}]}, "mark": {"type": "text", "text": "(f)", "font": "Liberation Sans", "fontSize": 11, "align": "left", "baseline": "middle"}, "encoding": {"x": {"datum": 0.0067}, "y": {"datum": -12.75}}}
]},
{"width": 130, "height": 98,
"layer": [
{"data": {"name": "curves"}, "transform": [{"filter": "datum.p=='h'"}], "mark": {"type": "line"},
"encoding": {
"x": {"field": "t", "type": "quantitative", "scale": {"domain": [0, 0.145], "nice": false}, "axis": {"values": [0, 0.05, 0.1], "format": "~g", "title": "tJ̄|Δ|", "titleFontStyle": "italic"}},
"y": {"field": "y", "type": "quantitative", "scale": {"domain": [0, 1.04], "nice": false}, "axis": {"values": [0, 0.5, 1], "labels": false, "title": null}},
"color": {"field": "a", "type": "nominal", "scale": {"domain": [1,2,3,4,5,6], "range": ["#a6143f","#e5572b","#f5b021","#76b043","#4cc3ec","#7b3296"]}, "legend": null},
"detail": {"field": "s"},
"strokeDash": {"field": "s", "type": "nominal", "scale": {"domain": ["s","d"], "range": [[1,0],[1.2,1.8]]}, "legend": null},
"opacity": {"field": "s", "type": "nominal", "scale": {"domain": ["s","d"], "range": [1, 0.5]}, "legend": null},
"strokeWidth": {"field": "s", "type": "nominal", "scale": {"domain": ["s","d"], "range": [1.6, 1.4]}, "legend": null}
}},
{"data": {"name": "ends"}, "transform": [{"filter": "datum.p=='h'"}], "mark": {"type": "point", "shape": "M0,-1L0,1", "filled": false, "strokeWidth": 2, "size": 80, "opacity": 1}, "encoding": {"x": {"field": "t", "type": "quantitative"}, "y": {"field": "y", "type": "quantitative"}, "color": {"field": "a", "type": "nominal", "scale": {"domain": [1,2,3,4,5,6], "range": ["#a6143f","#e5572b","#f5b021","#76b043","#4cc3ec","#7b3296"]}, "legend": null}}},
{"data": {"values": [{}]}, "mark": {"type": "text", "text": "(h)", "font": "Liberation Sans", "fontSize": 11, "align": "left", "baseline": "middle"}, "encoding": {"x": {"datum": 0.0056}, "y": {"datum": 0.09}}}
]}
]}
]
},
{"width": 132, "height": 99,
"layer": [
{"data": {"name": "fits"}, "mark": {"type": "line", "strokeDash": [1.5,1.5], "strokeWidth": 1.4, "opacity": 0.55},
"encoding": {
"x": {"field": "N", "type": "quantitative", "scale": {"type": "log", "domain": [10, 310], "nice": false}, "axis": {"values": [10,20,30,40,50,60,70,80,90,100,200,300], "labelExpr": "datum.value == 10 ? '10¹' : datum.value == 100 ? '10²' : ''", "title": "N = L²", "titleFontStyle": "italic"}},
"y": {"field": "v", "type": "quantitative", "scale": {"type": "log", "domain": [0.0083, 1], "nice": false}, "axis": {"values": [0.009,0.01,0.02,0.03,0.04,0.05,0.06,0.07,0.08,0.09,0.1,0.2,0.3,0.4,0.5,0.6,0.7,0.8,0.9,1], "labelExpr": "datum.value == 1 ? '10⁰' : datum.value == 0.1 ? '10⁻¹' : datum.value == 0.01 ? '10⁻²' : ''", "title": "J̄/J⊥", "titleFontStyle": "italic"}},
"stroke": {"field": "k", "type": "nominal", "scale": {"domain": ["h","o"], "range": ["#c0284f","#9b4fc0"]}, "legend": null},
"detail": {"field": "k"}
}},
{"data": {"name": "scal"}, "mark": {"type": "circle", "size": 20, "opacity": 1},
"encoding": {
"x": {"field": "N", "type": "quantitative"},
"y": {"field": "v", "type": "quantitative"},
"color": {"field": "a", "type": "nominal", "scale": {"domain": [1,2,3,4,5,6], "range": ["#a6143f","#e5572b","#f5b021","#76b043","#4cc3ec","#7b3296"]}, "legend": null}
}},
{"data": {"values": [{}]}, "mark": {"type": "text", "text": "∼ N⁻¹ᐟ²", "angle": 8, "color": "#a6143f", "font": "Liberation Serif", "fontStyle": "italic", "fontSize": 13}, "encoding": {"x": {"datum": 92}, "y": {"datum": 0.485}}},
{"data": {"values": [{}]}, "mark": {"type": "text", "text": "∼ N⁻¹", "angle": 22, "color": "#7b3296", "font": "Liberation Serif", "fontStyle": "italic", "fontSize": 13}, "encoding": {"x": {"datum": 45}, "y": {"datum": 0.04}}},
{"data": {"values": [{}]}, "mark": {"type": "text", "text": "(i)", "font": "Liberation Sans", "fontSize": 11, "align": "left", "baseline": "middle"}, "encoding": {"x": {"datum": 12}, "y": {"datum": 0.0143}}}
]}
],
"config": {
"font": "Liberation Serif",
"view": {"stroke": "#3c3c3c", "strokeWidth": 1.2},
"axis": {"domain": false, "grid": false, "tickSize": 4, "offset": -4, "tickColor": "#3c3c3c", "tickWidth": 0.9, "labelFont": "Liberation Serif", "labelFontSize": 12.5, "labelColor": "#1a1a1a", "titleFont": "Liberation Serif", "titleFontSize": 12.5, "titleFontWeight": "normal", "titleColor": "#1a1a1a", "labelPadding": 3, "titlePadding": 3},
"title": {"font": "Liberation Serif", "fontSize": 13, "fontWeight": "normal", "color": "#1a1a1a", "offset": 3}
}
}
